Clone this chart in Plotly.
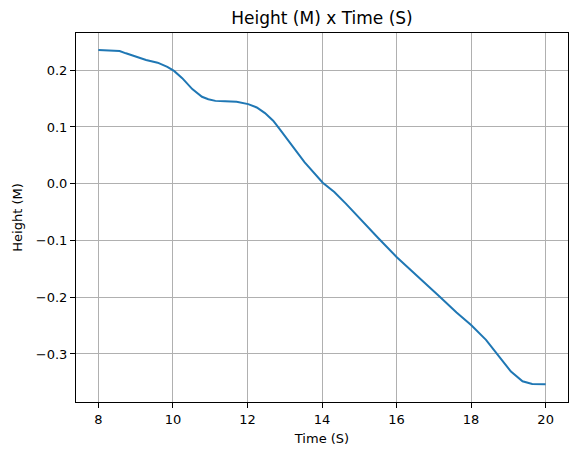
import plotly.graph_objects as go

time_s = [8.0, 8.57, 8.74, 9.01, 9.28, 9.59, 9.85, 10.03, 10.25, 10.52, 10.78, 10.95, 11.14,
          11.40, 11.71, 12.02, 12.25, 12.47, 12.69, 12.86, 13.20, 13.53, 14.02, 14.33,
          14.64, 15.10, 15.52, 16.0, 16.54, 17.16, 17.61, 18.0, 18.40, 18.76, 19.07, 19.38,
          19.64, 20.0]
height_m = [0.2356, 0.2339, 0.2298, 0.2233, 0.218, 0.2133, 0.2058, 0.1988, 0.186, 0.1667,
            0.1532, 0.149, 0.146, 0.1452, 0.1444, 0.1403, 0.1344, 0.1245, 0.111, 0.0965,
            0.0675, 0.0379, 0.0018, -0.0147, -0.035, -0.068, -0.0965, -0.129, -0.161,
            -0.199, -0.227, -0.249, -0.275, -0.304, -0.331, -0.348, -0.3527, -0.3533]

x_ticks = [8, 10, 12, 14, 16, 18, 20]
y_ticks = [0.2, 0.1, 0.0, -0.1, -0.2, -0.3]
y_labels = ["0.2", "0.1", "0.0", "\u22120.1", "\u22120.2", "\u22120.3"]

fig = go.Figure()
fig.add_trace(go.Scatter(x=time_s, y=height_m, mode="lines",
                         line=dict(color="#1f77b4", width=2)))

axis_style = dict(showline=True, linecolor="black", linewidth=1, mirror=True,
                  showgrid=True, gridcolor="#b0b0b0", gridwidth=1, zeroline=False,
                  ticks="outside", ticklen=5, tickcolor="black",
                  tickfont=dict(family="DejaVu Sans", size=13, color="black"))

# page body adds an 8px margin, so the figure is a bit smaller than the window
fig.update_layout(
    width=570, height=447,
    margin=dict(l=65, r=9, t=25, b=53),
    paper_bgcolor="white", plot_bgcolor="white",
    showlegend=False,
    title=dict(text="Height (M) x Time (S)", xref="paper", x=0.5, xanchor="center",
               y=0.978, yanchor="middle",
               font=dict(family="DejaVu Sans", size=17, color="black")),
    font=dict(family="DejaVu Sans", color="black"),
)
fig.update_xaxes(range=[7.4, 20.6], tickvals=x_ticks,
                 title=dict(text="Time (S)", font=dict(size=13), standoff=8), **axis_style)
fig.update_yaxes(range=[-0.3846, 0.2656], tickvals=y_ticks, ticktext=y_labels,
                 title=dict(text="Height (M)", font=dict(size=13), standoff=10), **axis_style)

fig.write_html("out.html")
